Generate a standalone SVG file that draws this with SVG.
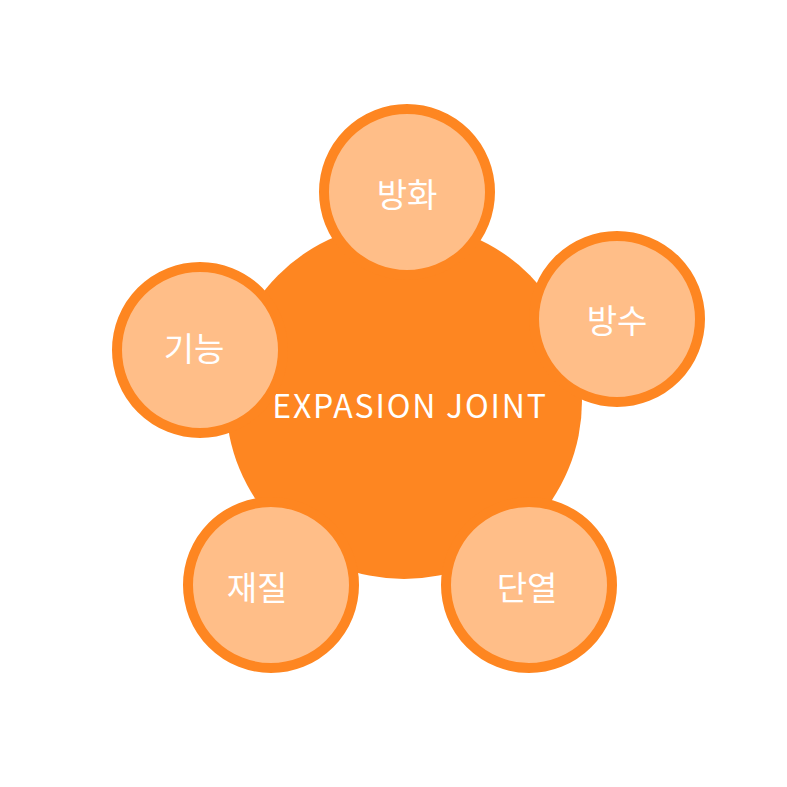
<svg xmlns="http://www.w3.org/2000/svg" width="787" height="787" viewBox="0 0 787 787">
  <style>
    .hub { fill: #FE8621; }
    .sat { fill: #FFBE88; stroke: #FE8621; stroke-width: 10; }
    .lbl { fill: #FFFFFF; font-family: "Noto Sans CJK KR", "Noto Sans", sans-serif; font-size: 33px; text-anchor: middle; dominant-baseline: central; }
    .hubl { fill: #FFFFFF; font-family: "Noto Sans CJK KR", "Noto Sans", sans-serif; font-size: 32px; letter-spacing: 1.8px; text-anchor: middle; }
  </style>
  <rect width="787" height="787" fill="#FFFFFF"/>
  <g id="connectors"></g>
  <g id="hub">
    <circle class="hub" cx="404" cy="401" r="178"/>
    <text class="hubl" x="410" y="418">EXPASION JOINT</text>
  </g>
  <g id="node-banghwa">
    <circle class="sat" cx="407" cy="192" r="83"/>
    <text class="lbl" x="407" y="193">방화</text>
  </g>
  <g id="node-bangsu">
    <circle class="sat" cx="617" cy="319" r="83"/>
    <text class="lbl" x="617" y="319">방수</text>
  </g>
  <g id="node-gineung">
    <circle class="sat" cx="200" cy="350" r="83"/>
    <text class="lbl" x="194" y="347">기능</text>
  </g>
  <g id="node-jaejil">
    <circle class="sat" cx="271" cy="585" r="83"/>
    <text class="lbl" x="257" y="586">재질</text>
  </g>
  <g id="node-danyeol">
    <circle class="sat" cx="529" cy="585" r="83"/>
    <text class="lbl" x="527" y="586">단열</text>
  </g>
</svg>
